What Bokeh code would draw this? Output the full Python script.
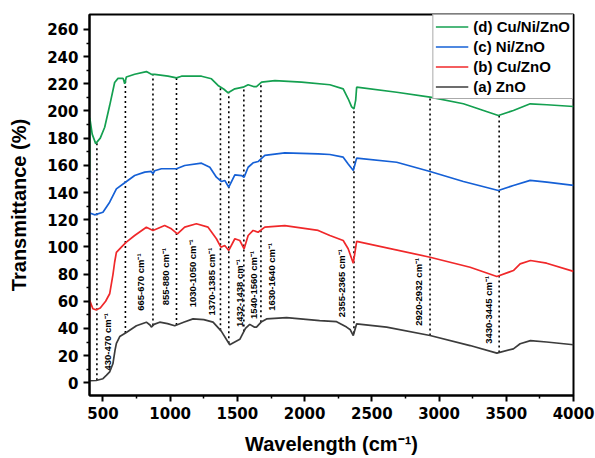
import numpy as np
from bokeh.plotting import figure
from bokeh.models import Range1d, FixedTicker, Legend, LegendItem
from bokeh.core.properties import value
from bokeh.embed import file_html
from bokeh.resources import INLINE

# (a) ZnO
wn_a = [400, 450, 500, 525, 550, 574, 590, 600, 625, 674, 749, 823, 850, 860, 880, 922, 980,
        1034, 1100, 1170, 1250, 1319, 1380, 1443, 1518, 1560, 1592, 1625, 1642, 1680, 1717,
        1866, 2112, 2238, 2312, 2340, 2362, 2387, 2610, 2933, 3231, 3430, 3553, 3603, 3680,
        3800, 4000]
t_a = [1.5, 1.7, 3, 5.4, 8, 14, 24, 29, 34, 37, 42, 44.6, 42.5, 41, 43, 44.6, 43.5,
       42, 44.5, 47, 46.5, 44.6, 38, 28, 32, 40, 43, 41, 41, 45, 47,
       48, 45.8, 45, 41, 39, 34.8, 43.4, 41, 34.8, 27.4, 21.8, 25, 28.7, 31,
       30, 28]

# (b) Cu/ZnO
wn_b = [400, 402, 425, 451, 480, 520, 550, 575, 587, 600, 637, 674, 736, 823, 872, 959, 1009,
        1054, 1108, 1195, 1282, 1344, 1377, 1406, 1436, 1481, 1518, 1550, 1580, 1617, 1654,
        1704, 1853, 2101, 2188, 2287, 2324, 2362, 2387, 2933, 3231, 3430, 3553, 3603, 3680,
        3800, 4000]
t_b = [48, 60.5, 54.5, 53.7, 55, 60, 65.5, 80, 88.7, 96, 99.8, 103.5, 108.4, 114.5, 112.1,
       115.7, 113.3, 109.6, 114.5, 117, 114.5, 106, 99.8, 101, 97.4, 106, 104.7, 98.6, 108.4,
       112.1, 110.8, 114.5, 115.7, 112.1, 108.4, 104.7, 98.6, 88, 104, 92.4, 85, 78.2, 82.6,
       87.5, 90, 88, 82]

# (c) Ni/ZnO
wn_c = [400, 402, 438, 500, 550, 600, 662, 736, 811, 860, 872, 885, 935, 1047, 1108, 1233,
        1295, 1344, 1382, 1406, 1436, 1481, 1531, 1550, 1580, 1617, 1654, 1704, 1853, 2101,
        2188, 2287, 2324, 2362, 2387, 2685, 2933, 3181, 3441, 3553, 3678, 3802, 4000]
t_c = [120, 125, 123.6, 125.5, 132.9, 142.7, 147.2, 152.5, 155, 155.5, 153.8, 156, 157.5,
       157.5, 159.9, 161.6, 158.6, 151.3, 148.1, 148.9, 143.9, 153, 152.5, 151.3, 158.6,
       161.9, 162.8, 167.3, 169.2, 168.5, 168, 166, 161, 156.2, 165.3, 162.3, 155.5, 148.1,
       141.5, 145.2, 148.9, 147.6, 145.2]

# (d) Cu/Ni/ZnO
wn_d = [400, 402, 420, 446, 480, 513, 550, 587, 612, 650, 662, 674, 736, 823, 860, 885, 984,
        1047, 1084, 1233, 1307, 1356, 1400, 1431, 1481, 1543, 1580, 1620, 1642, 1680, 1779,
        1977, 2188, 2287, 2324, 2350, 2367, 2380, 2387, 2685, 2933, 3181, 3441, 3553, 3678,
        3802, 4000]
t_d = [155, 195, 183, 176, 180, 188, 204, 221, 224, 224, 220, 225, 227, 229, 227, 227, 225.6,
       224.4, 225.6, 225.6, 223.7, 218.8, 216, 213.4, 216.3, 217.5, 219.3, 218, 218, 221.2,
       222.4, 221.2, 219.3, 216.3, 209, 203, 201.6, 208, 217.5, 213.8, 210.2, 205.3, 196.7,
       200.4, 205.3, 204.6, 203.3]

band_pos = [455, 667, 872, 1047, 1374, 1436, 1548, 1675, 2367, 2933, 3447]
band_labels = ["430-470 cm\u207b\u00b9", "665-670 cm\u207b\u00b9", "855-880 cm\u207b\u00b9",
               "1030-1050 cm\u207b\u00b9", "1370-1385 cm\u207b\u00b9", "1432-1438 cm\u207b\u00b9",
               "1540-1560 cm\u207b\u00b9", "1630-1640 cm\u207b\u00b9", "2355-2365 cm\u207b\u00b9",
               "2920-2932 cm\u207b\u00b9", "3430-3445 cm\u207b\u00b9"]
label_x = [537, 781, 967, 1168, 1307, 1512, 1622, 1754, 2275, 2846, 3367]
label_y = [9, 53, 57, 55.6, 49.5, 41, 47, 53, 48.3, 42, 28.7]

x_ticks = [500, 1000, 1500, 2000, 2500, 3000, 3500, 4000]
y_ticks = list(range(0, 261, 20))

p = figure(width=595, height=458, output_backend="svg", toolbar_location=None,
           x_range=Range1d(400, 4000), y_range=Range1d(-9.35, 271),
           min_border_left=89, min_border_right=22, min_border_top=14, min_border_bottom=63,
           background_fill_color="white", border_fill_color="white")

p.xgrid.visible = False
p.ygrid.visible = False
p.outline_line_color = "black"
p.outline_line_width = 2

# dotted band markers
y_low = np.interp(band_pos, wn_a, t_a)
y_high = np.interp(band_pos, wn_d, t_d)
p.segment(x0=band_pos, y0=y_low, x1=band_pos, y1=y_high, line_color="black",
          line_width=1.6, line_dash="2 3")

p.text(x=label_x, y=label_y, text=band_labels, angle=np.pi / 2, text_align="left",
       text_baseline="middle", text_font=value("Liberation Sans"), text_font_style="bold",
       text_font_size="9.5px", text_color="black")

ra = p.line(wn_a, t_a, line_color="#3c3c3c", line_width=1.7)
rb = p.line(wn_b, t_b, line_color="#f0282a", line_width=1.7)
rc = p.line(wn_c, t_c, line_color="#1560d6", line_width=1.7)
rd = p.line(wn_d, t_d, line_color="#14a050", line_width=1.7)

legend = Legend(items=[LegendItem(label="(d) Cu/Ni/ZnO", renderers=[rd]),
                       LegendItem(label="(c) Ni/ZnO", renderers=[rc]),
                       LegendItem(label="(b) Cu/ZnO", renderers=[rb]),
                       LegendItem(label="(a) ZnO", renderers=[ra])],
                location="top_right", margin=0, padding=2, spacing=1,
                label_height=19, glyph_height=19, glyph_width=33, label_standoff=5,
                label_text_font="Liberation Sans", label_text_font_style="bold",
                label_text_font_size="15px", label_text_color="black",
                border_line_color="#555555", border_line_width=1,
                background_fill_color="white", background_fill_alpha=1)
p.add_layout(legend)

for ax in (p.xaxis[0], p.yaxis[0]):
    ax.axis_line_width = 2
    ax.axis_line_color = "black"
    ax.major_tick_line_width = 2
    ax.minor_tick_line_width = 1.5
    ax.major_tick_out = 6
    ax.major_tick_in = 0
    ax.minor_tick_out = 3
    ax.minor_tick_in = 0
    ax.major_label_text_font = "DejaVu Sans"
    ax.major_label_text_font_style = "bold"
    ax.major_label_text_font_size = "15px"
    ax.major_label_text_color = "black"
    ax.axis_label_text_font = "Liberation Sans"
    ax.axis_label_text_font_style = "bold"
    ax.axis_label_text_font_size = "20px"
    ax.axis_label_text_color = "black"

p.xaxis.ticker = FixedTicker(ticks=x_ticks, minor_ticks=[750, 1250, 1750, 2250, 2750, 3250, 3750])
p.yaxis.ticker = FixedTicker(ticks=y_ticks, minor_ticks=list(range(10, 261, 20)))
p.xaxis.axis_label = "Wavelength (cm\u207b\u00b9)"
p.yaxis.axis_label = "Transmittance (%)"
p.xaxis.major_label_standoff = 5
p.yaxis.major_label_standoff = 5
p.xaxis.axis_label_standoff = 11
p.yaxis.axis_label_standoff = 14

open("out.html", "w").write(file_html(p, INLINE))
